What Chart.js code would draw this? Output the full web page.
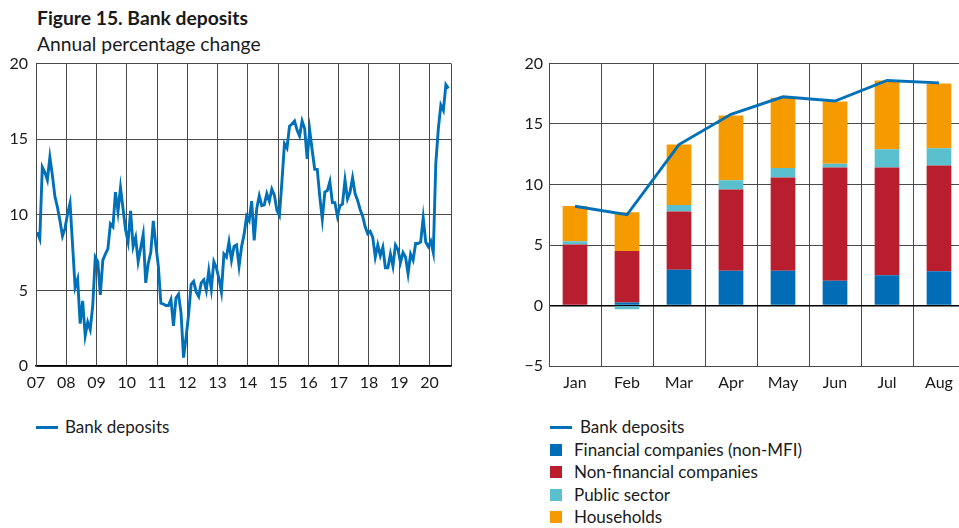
<!DOCTYPE html>
<html><head><meta charset="utf-8">
<script src="https://cdn.jsdelivr.net/npm/chart.js@4.4.1/dist/chart.umd.min.js"></script>
<style>
html,body{margin:0;padding:0;width:959px;height:528px;overflow:hidden;background:#fff;font-family:Lato,'Noto Sans',sans-serif;color:#1a1a1a}
#title{position:absolute;left:37px;top:6px;font-weight:bold;font-size:19.3px;line-height:24px}
#subtitle{position:absolute;left:37px;top:32px;font-size:19.3px;line-height:24px}
canvas{position:absolute;top:0}
#c1{left:0}
#c2{left:500px}
.leg{position:absolute;font-size:17px}
.leg .row{position:relative;height:22.5px;line-height:22.5px;white-space:nowrap}
.leg .ln{position:absolute;top:10px;width:22px;height:3px}
.leg .sq{position:absolute;top:5px;width:12px;height:12px}
</style></head><body>
<div id="title">Figure 15. Bank deposits</div>
<div id="subtitle">Annual percentage change</div>
<canvas id="c1" width="470" height="400"></canvas>
<canvas id="c2" width="480" height="400"></canvas>
<div id="leg1" class="leg" style="left:36px;top:416px"></div>
<div id="leg2" class="leg" style="left:550px;top:416px"></div>
<script>
// ---------- data ----------
const yearTicks = ['07','08','09','10','11','12','13','14','15','16','17','18','19','20'];
const firstYear = 2007;
// Bank deposits, annual % change, monthly Jan 2007 - Aug 2020
const depositsMonthly = [
  8.85, 8.4, 13.15, 12.8, 12.3, 13.8, 12.6, 11.2, 10.5, 9.6, 8.6, 9.1,
  10.05, 10.77, 8.0, 5.2, 5.75, 2.8, 4.3, 2.0, 2.9, 2.4, 4.0, 7.2,
  6.9, 4.7, 7.0, 7.4, 7.75, 9.4, 9.2, 11.5, 10.2, 11.8, 10.4, 9.0,
  8.2, 10.25, 7.9, 8.5, 6.9, 7.8, 8.7, 5.5, 6.8, 7.5, 9.6, 8.0,
  6.6, 4.15, 4.1, 4.0, 4.0, 4.4, 2.65, 4.5, 4.75, 3.5, 0.55, 1.9,
  3.4, 5.4, 5.6, 4.9, 4.6, 5.5, 5.7, 5.0, 6.3, 5.1, 6.9, 6.5,
  5.8, 4.9, 7.4, 7.2, 8.2, 7.0, 7.9, 8.0, 6.6, 7.9, 8.7, 9.9,
  9.6, 10.9, 8.3, 10.4, 11.25, 10.6, 10.65, 11.4, 10.9, 11.7, 11.3, 10.3,
  9.95, 12.2, 14.7, 14.4, 15.85, 16.0, 16.2, 15.6, 15.2, 16.2, 15.7, 13.7,
  15.6, 14.25, 13.0, 13.0, 11.2, 9.7, 11.5, 11.6, 12.2, 10.8, 10.8, 9.9,
  10.6, 10.7, 12.3, 11.05, 11.5, 12.45, 11.4, 10.95, 10.35, 9.9, 9.2, 8.75,
  8.9, 8.5, 7.2, 8.0, 7.3, 7.85, 6.5, 6.5, 7.4, 6.6, 8.0, 7.7,
  6.85, 7.5, 7.2, 6.1, 7.4, 7.0, 8.1, 8.1, 8.2, 9.8, 8.2, 7.9,
  8.25, 7.5, 13.4, 15.7, 17.25, 16.9, 18.6, 18.35
];
const xMax = 2020.71;

const months2020 = ['Jan','Feb','Mar','Apr','May','Jun','Jul','Aug'];
const bankDeposits2020 = [8.2, 7.5, 13.3, 15.8, 17.25, 16.9, 18.6, 18.4];
const financialCompanies = [0, 0.25, 2.96, 2.88, 2.88, 2.05, 2.49, 2.83];
const nonFinancialCompanies = [5.05, 4.25, 4.8, 6.7, 7.7, 9.36, 8.92, 8.75];
const publicSector = [0.25, -0.3, 0.55, 0.78, 0.78, 0.3, 1.5, 1.41];
const households = [2.93, 3.2, 5.0, 5.35, 5.8, 5.15, 5.68, 5.35];

// ---------- styles ----------
const BLUE_LINE = '#0070b8';
const C_FIN = '#006db6', C_NONFIN = '#b81e2e', C_PUB = '#5bc0ce', C_HH = '#f59b00';
const GRID = '#4a4a4a';
const TXT = '#1a1a1a';
const FONT = {family: 'Lato', size: 16};

Chart.defaults.font.family = 'Lato';
Chart.defaults.color = TXT;

// ---------- left chart ----------
new Chart(document.getElementById('c1'), {
  type: 'line',
  data: {
    datasets: [{
      label: 'Bank deposits',
      data: depositsMonthly.map((v, i) => ({x: firstYear + (i + 0.5) / 12, y: v})),
      borderColor: BLUE_LINE, borderWidth: 2.9, pointRadius: 0, tension: 0, fill: false
    }]
  },
  options: {
    responsive: false, animation: false, devicePixelRatio: 1,
    layout: {padding: {top: 63.5, right: 19, left: 0, bottom: 0}},
    plugins: {legend: {display: false}, tooltip: {enabled: false}},
    scales: {
      x: {
        type: 'linear', min: firstYear, max: xMax,
        afterBuildTicks: s => { s.ticks = yearTicks.map((t, i) => ({value: firstYear + i})).concat([{value: xMax}]); },
        afterFit: s => { s.height = 34; },
        ticks: {callback: (v, i) => i < yearTicks.length ? yearTicks[i] : '', maxRotation: 0, autoSkip: false, padding: 7, font: FONT, color: TXT},
        grid: {color: GRID, lineWidth: 1, drawTicks: false},
        border: {color: '#000', width: 1.5}
      },
      y: {
        min: 0, max: 20,
        afterFit: s => { s.width = 36; },
        ticks: {stepSize: 5, padding: 8, font: FONT, color: TXT},
        grid: {color: GRID, lineWidth: 1, drawTicks: false},
        border: {color: GRID, width: 1}
      }
    }
  }
});

// ---------- right chart ----------
new Chart(document.getElementById('c2'), {
  type: 'bar',
  data: {
    labels: months2020,
    datasets: [
      {type: 'line', label: 'Bank deposits', data: bankDeposits2020, borderColor: BLUE_LINE, backgroundColor: BLUE_LINE, borderWidth: 2.9, pointRadius: 0, tension: 0, order: 0},
      {label: 'Financial companies (non-MFI)', data: financialCompanies, backgroundColor: C_FIN, stack: 's', order: 1},
      {label: 'Non-financial companies', data: nonFinancialCompanies, backgroundColor: C_NONFIN, stack: 's', order: 1},
      {label: 'Public sector', data: publicSector, backgroundColor: C_PUB, stack: 's', order: 1},
      {label: 'Households', data: households, backgroundColor: C_HH, stack: 's', order: 1}
    ]
  },
  options: {
    responsive: false, animation: false, devicePixelRatio: 1,
    layout: {padding: {top: 63.5, right: 15, left: 0, bottom: 0}},
    plugins: {legend: {display: false}, tooltip: {enabled: false}},
    datasets: {bar: {categoryPercentage: 0.475, barPercentage: 1}},
    scales: {
      x: {
        stacked: true,
        afterFit: s => { s.height = 34; },
        ticks: {maxRotation: 0, autoSkip: false, padding: 7, font: FONT, color: TXT},
        grid: {color: GRID, lineWidth: 1, drawTicks: false, offset: true},
        border: {color: GRID, width: 1}
      },
      y: {
        stacked: true, min: -5, max: 20,
        afterFit: s => { s.width = 49; },
        ticks: {stepSize: 5, padding: 6, font: FONT, color: TXT, callback: v => v < 0 ? '\u2212' + Math.abs(v) : String(v)},
        grid: {color: c => c.tick && c.tick.value === 0 ? '#000' : GRID, lineWidth: c => c.tick && c.tick.value === 0 ? 1.5 : 1, drawTicks: false},
        border: {color: GRID, width: 1}
      }
    }
  }
});

// ---------- legends ----------
function buildLegend(el, items, textLeftLine, textLeftBox) {
  items.forEach(it => {
    const row = document.createElement('div');
    row.className = 'row';
    const mark = document.createElement('span');
    mark.className = it.kind === 'line' ? 'ln' : 'sq';
    mark.style.left = '0px';
    mark.style.background = it.color;
    const txt = document.createElement('span');
    txt.textContent = it.label;
    txt.style.position = 'absolute';
    txt.style.left = (it.kind === 'line' ? textLeftLine : textLeftBox) + 'px';
    row.appendChild(mark); row.appendChild(txt);
    el.appendChild(row);
  });
}
buildLegend(document.getElementById('leg1'), [{kind: 'line', color: BLUE_LINE, label: 'Bank deposits'}], 29, 24);
buildLegend(document.getElementById('leg2'), [
  {kind: 'line', color: BLUE_LINE, label: 'Bank deposits'},
  {kind: 'box', color: C_FIN, label: 'Financial companies (non-MFI)'},
  {kind: 'box', color: C_NONFIN, label: 'Non-financial companies'},
  {kind: 'box', color: C_PUB, label: 'Public sector'},
  {kind: 'box', color: C_HH, label: 'Households'}
], 30, 24);
</script>
</body></html>
